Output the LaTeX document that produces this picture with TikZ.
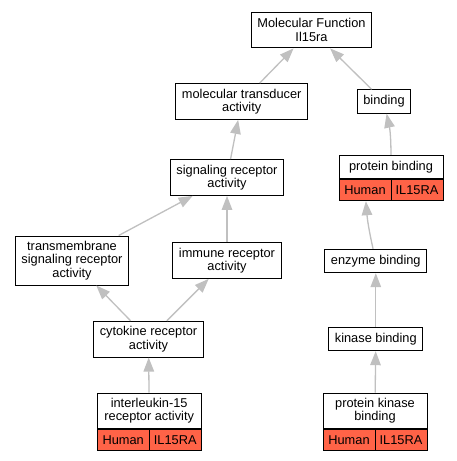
\documentclass[tikz,border=0pt]{standalone}
\usepackage{fontspec}
\setmainfont{Liberation Sans}
\usepackage{xcolor}
\usetikzlibrary{arrows.meta}
\definecolor{tomato}{RGB}{255,99,71}
\definecolor{edgegray}{RGB}{192,192,192}
\begin{document}
\begin{tikzpicture}[x=1pt,y=-1pt]
\tikzstyle{every node}+=[inner sep=0pt,font=\fontsize{12.8}{13.3}\selectfont]
\tikzstyle{box}=[draw=black,line width=1pt,fill=white,inner xsep=6pt,minimum height=23.4pt,align=center]
\tikzstyle{two}=[minimum height=35.8pt]
\tikzstyle{three}=[minimum height=49pt]
\tikzstyle{head}=[box,minimum width=104pt]
\tikzstyle{cell}=[draw=black,line width=1pt,fill=tomato,minimum width=52pt,minimum height=21pt]
\tikzstyle{isa}=[draw=edgegray,line width=1.3pt,-{Triangle[length=14pt,width=10.5pt]}]
\fill [white] (0,0) rectangle (457,461);
\node [box,two] (mf) at (311.5,30) {Molecular Function\\Il15ra};
\node [box,two] (trans) at (241.7,101.5) {molecular transducer\\activity};
\node [box] (bind) at (384,101.5) {binding};
\node [box,two] (sig) at (227,177.5) {signaling receptor\\activity};
\node [head] (pb) at (391,167) {protein binding};
\node [cell,anchor=north west] (pbh) at (pb.south west) {Human};
\node [cell,anchor=north east] (pbg) at (pb.south east) {IL15RA};
\node [box,three] (tm) at (72,260.5) {transmembrane\\signaling receptor\\activity};
\node [box,two] (imm) at (227,260.5) {immune receptor\\activity};
\node [box] (enz) at (375.8,261) {enzyme binding};
\node [box,two] (cyt) at (148.5,339.2) {cytokine receptor\\activity};
\node [box] (kin) at (375.8,339) {kinase binding};
\node [head,two] (il) at (149.2,411) {interleukin-15\\receptor activity};
\node [cell,anchor=north west] (ilh) at (il.south west) {Human};
\node [cell,anchor=north east] (ilg) at (il.south east) {IL15RA};
\node [head,two] (pkb) at (375,411) {protein kinase\\binding};
\node [cell,anchor=north west] (pkbh) at (pkb.south west) {Human};
\node [cell,anchor=north east] (pkbg) at (pkb.south east) {IL15RA};
\draw [isa] (trans) -- (mf);
\draw [isa] (bind) -- (mf);
\draw [isa] (sig) -- (trans);
\draw [isa] (pb) to [bend right=6] (bind);
\draw [isa] (tm) -- (sig);
\draw [isa] (imm) -- (sig);
\draw [isa] (enz) to [bend left=4] (pbh);
\draw [isa] (cyt) -- (tm);
\draw [isa] (cyt) -- (imm);
\draw [isa] (kin) -- (enz);
\draw [isa] (il) -- (cyt);
\draw [isa] (pkb) -- (kin);
\end{tikzpicture}
\end{document}
